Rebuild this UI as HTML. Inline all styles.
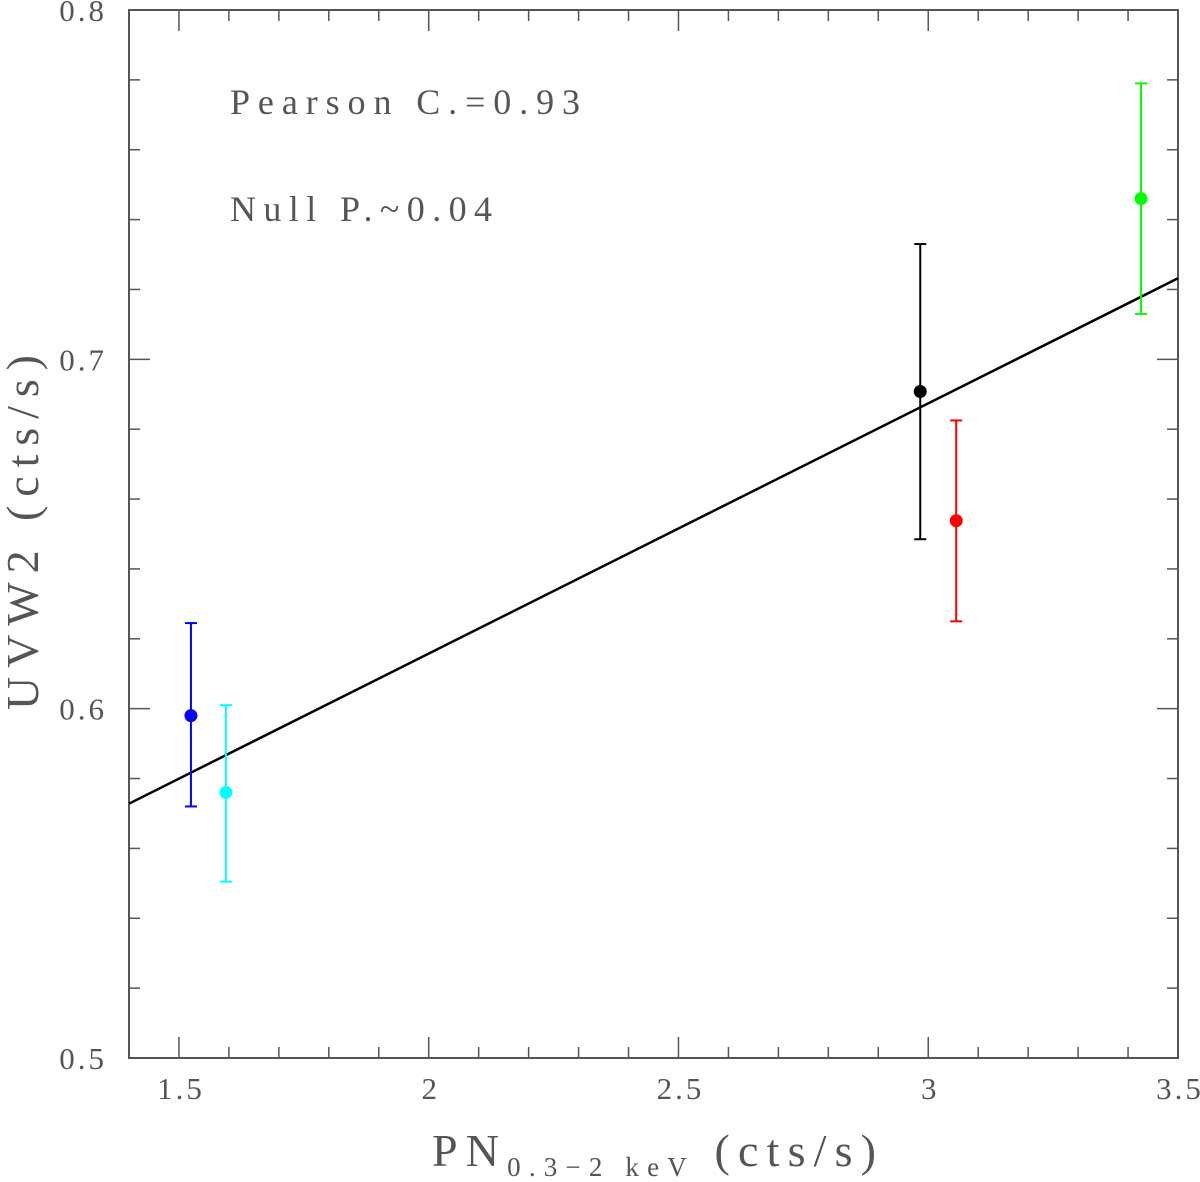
<!DOCTYPE html>
<html><head><meta charset="utf-8"><style>
html,body{margin:0;padding:0;background:#fff}
svg{display:block}
text{font-family:"Liberation Serif",serif;fill:#555}
</style></head><body>
<svg id="chart" width="1200" height="1182" viewBox="0 0 1200 1182" xmlns="http://www.w3.org/2000/svg"></svg>
<script>
const xVals=[1.524,1.594,2.984,3.056,3.426];
const yVals=[0.598,0.576,0.6908,0.6538,0.746];
const yHi=[0.6245,0.601,0.733,0.6825,0.779];
const yLo=[0.572,0.5505,0.6485,0.625,0.713];
const colors=['#0000ff','#00ffff','#000000','#ff0000','#00ff00'];
const pointNames=['blue','cyan','black','red','green'];
const fitX=[1.4,3.5];
const fitY=[0.5728,0.7232];
const xTicks=['1.5','2','2.5','3','3.5'];
const yTicks=['0.5','0.6','0.7','0.8'];

const L=129,R=1178,T=10,B=1058,x0=1.4,x1=3.5,y0=0.5,y1=0.8;
const sx=v=>L+(v-x0)/(x1-x0)*(R-L);
const sy=v=>B-(v-y0)/(y1-y0)*(B-T);
const svg=document.getElementById('chart');
const NS='http://www.w3.org/2000/svg';
function mk(tag,attrs,parent){const e=document.createElementNS(NS,tag);for(const k in attrs)e.setAttribute(k,attrs[k]);(parent||svg).appendChild(e);return e;}

const frame=mk('rect',{x:L,y:T,width:R-L,height:B-T,fill:'none',stroke:'#555','stroke-width':2});



for(let i=0;i<=21;i++){const v=x0+i*0.1;const x=sx(v);const major=Math.abs((v*2)-Math.round(v*2))<1e-6;const len=major?21:11;
const t1=mk('line',{x1:x,x2:x,y1:B,y2:B-len,stroke:'#555','stroke-width':1.5});


const t2=mk('line',{x1:x,x2:x,y1:T,y2:T+len,stroke:'#555','stroke-width':1.5});

}
xTicks.forEach(s=>{const t=mk('text',{x:sx(parseFloat(s))+2,y:1099,'font-size':31,'text-anchor':'middle','letter-spacing':3});t.textContent=s;

});
for(let i=0;i<=15;i++){const v=y0+i*0.02;const y=sy(v);const major=i%5===0;const len=major?21:11;
const t1=mk('line',{x1:L,x2:L+len,y1:y,y2:y,stroke:'#555','stroke-width':1.5});


const t2=mk('line',{x1:R,x2:R-len,y1:y,y2:y,stroke:'#555','stroke-width':1.5});

}
yTicks.forEach(s=>{const t=mk('text',{x:107,y:sy(parseFloat(s))+11,'font-size':31,'text-anchor':'end','letter-spacing':3});t.textContent=s;

});

const fl=mk('line',{x1:sx(fitX[0]),y1:sy(fitY[0]),x2:sx(fitX[1]),y2:sy(fitY[1]),stroke:'#000','stroke-width':2.5});



xVals.forEach((xv,i)=>{const x=sx(xv),c=colors[i];
const g=mk('g',{});


mk('line',{x1:x,x2:x,y1:sy(yHi[i]),y2:sy(yLo[i]),stroke:c,'stroke-width':2},g);
mk('line',{x1:x-6,x2:x+6,y1:sy(yHi[i]),y2:sy(yHi[i]),stroke:c,'stroke-width':2},g);
mk('line',{x1:x-6,x2:x+6,y1:sy(yLo[i]),y2:sy(yLo[i]),stroke:c,'stroke-width':2},g);
mk('circle',{cx:x,cy:sy(yVals[i]),r:6.5,fill:c},g);});

const a1=mk('text',{x:230,y:114,'font-size':36,textLength:350,lengthAdjust:'spacing'});a1.textContent='Pearson C.=0.93';


const a2=mk('text',{x:230,y:221,'font-size':36,textLength:262,lengthAdjust:'spacing'});a2.textContent='Null P.~0.04';



const xt=mk('text',{x:432,y:1166,'font-size':46,textLength:444,lengthAdjust:'spacing'});
xt.innerHTML='PN<tspan font-size="27" dy="10">0.3−2 keV</tspan><tspan dy="-10"> (cts/s)</tspan>';


const yt=mk('text',{x:-355,y:0,'font-size':46,textLength:355,lengthAdjust:'spacing',transform:'translate(38,0) rotate(-90) translate(-355,0)'});
yt.setAttribute('transform','translate(38,710) rotate(-90)');
yt.setAttribute('x','0');
yt.textContent='UVW2 (cts/s)';


</script>
</body></html>
